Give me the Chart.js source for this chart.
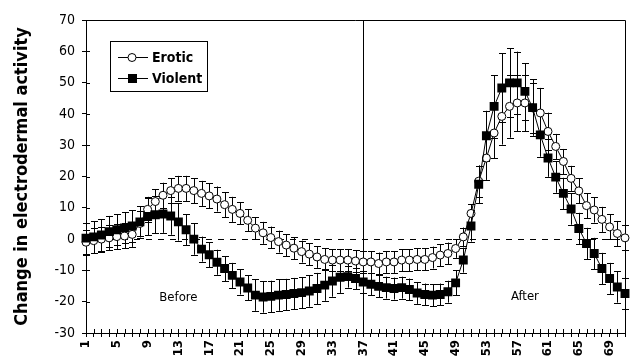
<!DOCTYPE html>
<html>
<head>
<meta charset="utf-8">
<script src="https://cdn.jsdelivr.net/npm/chart.js@4"></script>
<style>
  body { margin: 0; background: #fff; }
  .chart-container { width: 636px; height: 364px; }
</style>
</head>
<body>
<div class="chart-container">
  <canvas id="edaChart" width="636" height="364"></canvas>
</div>
<script>
const categories = [
  1, 2, 3, 4, 5, 6, 7, 8, 9, 10, 11, 12, 13, 14, 15, 16, 17, 18, 19, 20,
  21, 22, 23, 24, 25, 26, 27, 28, 29, 30, 31, 32, 33, 34, 35, 36, 37, 38, 39, 40,
  41, 42, 43, 44, 45, 46, 47, 48, 49, 50, 51, 52, 53, 54, 55, 56, 57, 58, 59, 60,
  61, 62, 63, 64, 65, 66, 67, 68, 69, 70, 71
];
const xTickLabels = ['1', '5', '9', '13', '17', '21', '25', '29', '33', '37', '41', '45', '49', '53', '57', '61', '65', '69'];
const yTicks = [-30, -20, -10, 0, 10, 20, 30, 40, 50, 60, 70];

// mean change, erotic film
const erotic = [
  -1.0, -0.5, 0.0, 0.4, 0.8, 1.0, 1.5, 5.0, 9.5, 12.0,
  14.0, 15.5, 16.2, 16.2, 15.5, 14.6, 13.8, 12.8, 11.0, 9.5,
  8.2, 6.0, 3.5, 2.0, 0.5, -0.8, -1.9, -2.9, -4.0, -4.8,
  -5.7, -6.5, -6.7, -6.7, -6.7, -7.0, -7.3, -7.3, -7.8, -7.3,
  -7.3, -6.7, -6.7, -6.5, -6.5, -5.9, -5.1, -4.6, -3.0, 0.7,
  8.2, 18.5, 25.9, 33.9, 39.2, 42.4, 43.5, 43.5, 41.9, 40.3,
  34.4, 29.6, 24.8, 19.4, 15.4, 10.7, 9.3, 6.3, 3.9, 1.8,
  0.4
];
const eroticErr = [
  4, 4, 4, 4, 4, 4, 4, 4, 4, 4,
  4, 4, 4, 4, 4, 4, 4, 4, 4, 4,
  3.5, 3.5, 3.5, 3.5, 3.5, 3.5, 3.5, 3.5, 3.5, 3.5,
  3.5, 3.5, 3.5, 3.5, 3.5, 3.5, 3.5, 3.5, 3.5, 3.5,
  3.5, 3.5, 3.5, 3.5, 3.5, 3.5, 3.5, 3.5, 3, 3,
  3, 5, 7, 8, 9, 10, 9, 9, 8, 8,
  6, 4, 4, 4, 4, 4, 4, 4, 4, 4,
  4
];

// mean change, violent film
const violent = [
  0.3, 0.7, 1.3, 2.4, 3.0, 3.6, 4.2, 5.5, 7.2, 7.8,
  8.0, 7.4, 5.5, 3.0, 0.0, -3.2, -5.0, -7.4, -9.4, -11.6,
  -13.7, -15.6, -17.9, -18.5, -18.3, -17.9, -17.7, -17.4, -17.1, -16.6,
  -15.8, -14.7, -13.4, -12.2, -12.0, -12.6, -13.7, -14.4, -15.1, -15.5,
  -15.8, -15.5, -16.1, -17.2, -17.7, -17.9, -17.7, -16.8, -14.0, -6.7,
  4.2, 17.5, 33.0, 42.4, 48.3, 49.9, 49.9, 47.2, 42.0, 33.3,
  25.9, 19.8, 14.6, 9.6, 3.4, -1.4, -4.6, -9.4, -12.6, -15.3,
  -17.4
];
const violentErr = [
  5, 5, 5, 5, 5, 5, 5, 5, 6, 6,
  6, 6, 6, 5, 5, 4, 4, 4, 4, 4,
  4, 4, 5, 5, 5, 5, 5, 5, 5, 5,
  5, 5, 5, 5, 3.5, 3.5, 3.5, 3.5, 3.5, 3.5,
  3.5, 3.5, 3.5, 3.5, 3.5, 3.5, 3.5, 3.5, 4, 4,
  5, 6, 8, 10, 11, 11, 10, 9, 9, 7,
  6, 5, 5, 5, 5, 5, 5, 5, 5, 5,
  5
];

const phaseLine = 37;
const notes = [
  { text: 'Before', x: 13, y: -18.6 },
  { text: 'After', x: 58, y: -18.3 }
];

const FONT = "'Liberation Sans Narrow', 'DejaVu Sans Condensed', 'Liberation Sans', Arial, sans-serif";
Chart.defaults.font.family = FONT;
Chart.defaults.color = '#000';

const errors = [eroticErr, violentErr];

// error bars, reference lines, frame, legend and labels
const overlay = {
  id: 'overlay',
  beforeDatasetsDraw(chart) {
    const { ctx, chartArea: a, scales: { x, y } } = chart;
    ctx.save();
    ctx.strokeStyle = '#000';
    ctx.lineWidth = 1;

    // dashed zero line
    ctx.setLineDash([6, 6]);
    ctx.beginPath();
    ctx.moveTo(a.left, Math.round(y.getPixelForValue(0)) + 0.5);
    ctx.lineTo(a.right, Math.round(y.getPixelForValue(0)) + 0.5);
    ctx.stroke();
    ctx.setLineDash([]);

    // before / after divider
    const vx = Math.round(x.getPixelForValue(categories.indexOf(phaseLine))) + 0.5;
    ctx.beginPath();
    ctx.moveTo(vx, a.top);
    ctx.lineTo(vx, a.bottom);
    ctx.stroke();

    // frame top and right
    ctx.beginPath();
    ctx.moveTo(a.left, a.top + 0.5);
    ctx.lineTo(a.right + 0.5, a.top + 0.5);
    ctx.lineTo(a.right + 0.5, a.bottom);
    ctx.stroke();

    // inner half of the cross ticks
    ctx.beginPath();
    categories.forEach((c, i) => {
      const px = Math.round(x.getPixelForValue(i)) + 0.5;
      ctx.moveTo(px, a.bottom);
      ctx.lineTo(px, a.bottom - 4);
    });
    yTicks.forEach(v => {
      const py = Math.round(y.getPixelForValue(v)) + 0.5;
      ctx.moveTo(a.left, py);
      ctx.lineTo(a.left + 4, py);
    });
    ctx.stroke();

    // error bars
    chart.data.datasets.forEach((ds, di) => {
      const meta = chart.getDatasetMeta(di);
      ctx.beginPath();
      meta.data.forEach((pt, i) => {
        const v = ds.data[i];
        const e = errors[di][i];
        const px = Math.round(pt.x) + 0.5;
        const top = y.getPixelForValue(v + e);
        const bot = y.getPixelForValue(v - e);
        ctx.moveTo(px, top);
        ctx.lineTo(px, bot);
        ctx.moveTo(px - 3.5, Math.round(top) + 0.5);
        ctx.lineTo(px + 3.5, Math.round(top) + 0.5);
        ctx.moveTo(px - 3.5, Math.round(bot) + 0.5);
        ctx.lineTo(px + 3.5, Math.round(bot) + 0.5);
      });
      ctx.stroke();
    });
    ctx.restore();
  },
  afterDatasetsDraw(chart) {
    const { ctx, scales: { x, y } } = chart;
    ctx.save();
    ctx.fillStyle = '#000';
    ctx.font = '13px ' + FONT;
    ctx.textAlign = 'center';
    ctx.textBaseline = 'middle';
    notes.forEach(n => {
      ctx.fillText(n.text, x.getPixelForValue(categories.indexOf(n.x)), y.getPixelForValue(n.y));
    });

    // legend box
    ctx.strokeStyle = '#000';
    ctx.lineWidth = 1;
    ctx.strokeRect(110.5, 41.5, 97, 50);
    ctx.font = 'bold 14px ' + FONT;
    ctx.textAlign = 'left';
    chart.data.datasets.forEach((ds, i) => {
      const ly = 57 + i * 21;
      ctx.beginPath();
      ctx.moveTo(118, ly + 0.5);
      ctx.lineTo(148, ly + 0.5);
      ctx.stroke();
      ctx.beginPath();
      if (ds.pointStyle === 'rect') {
        ctx.fillRect(128, ly - 4, 9, 9);
      } else {
        ctx.fillStyle = '#fff';
        ctx.arc(132, ly + 0.5, 4, 0, Math.PI * 2);
        ctx.fill();
        ctx.stroke();
        ctx.fillStyle = '#000';
      }
      ctx.fillText(ds.label, 152, ly + 1);
    });
    ctx.restore();
  }
};

const chart = new Chart(document.getElementById('edaChart').getContext('2d'), {
  type: 'line',
  data: {
    labels: categories,
    datasets: [
      {
        label: 'Erotic',
        data: erotic,
        borderColor: '#000',
        borderWidth: 1,
        pointStyle: 'circle',
        pointRadius: 4,
        pointBackgroundColor: '#fff',
        pointBorderColor: '#000',
        pointBorderWidth: 1,
        order: 1
      },
      {
        label: 'Violent',
        data: violent,
        borderColor: '#000',
        borderWidth: 1,
        pointStyle: 'rect',
        pointRadius: 6.3,
        pointBackgroundColor: '#000',
        pointBorderColor: '#000',
        pointBorderWidth: 0,
        order: 0
      }
    ]
  },
  options: {
    responsive: false,
    animation: false,
    layout: { padding: { top: 20, right: 11, left: 0, bottom: 0 } },
    plugins: {
      legend: { display: false },
      tooltip: { enabled: false }
    },
    scales: {
      x: {
        type: 'category',
        offset: false,
        border: { color: '#000', width: 1 },
        grid: { display: true, drawOnChartArea: false, color: '#000', tickLength: 4 },
        ticks: {
          autoSkip: false,
          maxRotation: 90,
          minRotation: 90,
          padding: 3,
          font: { size: 13, weight: 'bold' },
          callback(value) {
            const l = String(this.getLabelForValue(value));
            return xTickLabels.includes(l) ? l : '';
          }
        },
        afterFit(scale) {
          scale.height = 31;
          scale.paddingLeft = 0;
          scale.paddingRight = 0;
        }
      },
      y: {
        min: -30,
        max: 70,
        border: { color: '#000', width: 1 },
        grid: { display: true, drawOnChartArea: false, color: '#000', tickLength: 4 },
        ticks: { stepSize: 10, padding: 7, font: { size: 14 } },
        title: {
          display: true,
          text: 'Change in electrodermal activity',
          font: { size: 18, weight: 'bold' },
          padding: { top: 12, bottom: 0 }
        },
        afterFit(scale) { scale.width = 86; }
      }
    }
  },
  plugins: [overlay]
});
</script>
</body>
</html>
